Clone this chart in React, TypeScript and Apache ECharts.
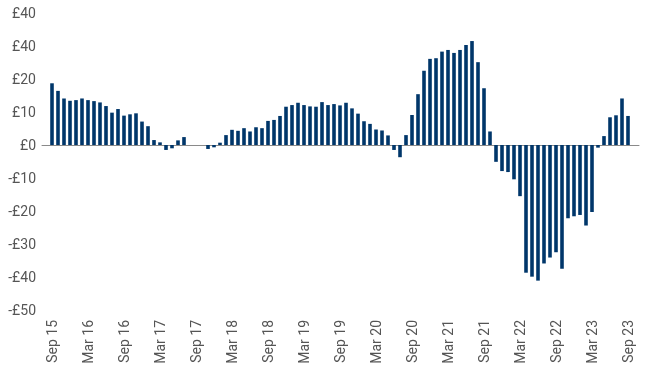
import React, { useEffect, useRef } from "react";
import * as echarts from "echarts";

const MONTHS = ["Jan", "Feb", "Mar", "Apr", "May", "Jun", "Jul", "Aug", "Sep", "Oct", "Nov", "Dec"];
// Sep 2015 .. Sep 2023, monthly
const categories: string[] = [];
for (let y = 2015, m = 8; y < 2023 || (y === 2023 && m <= 8); ) {
  categories.push(`${MONTHS[m]} ${String(y).slice(2)}`);
  m++;
  if (m === 12) { m = 0; y++; }
}

const values = [
  18.7, 16.4, 14.1, 13.4, 13.6, 14.1, 13.6, 13.3, 12.9, 11.8, 9.8, 10.9,
  8.9, 9.3, 9.6, 7.1, 5.7, 1.5, 0.8, -1.5, -1.0, 1.4, 2.4, 0,
  0, 0, -1.2, -0.7, 0.7, 3.0, 4.6, 4.3, 5.1, 4.1, 5.4, 5.1,
  7.3, 7.6, 8.8, 11.6, 12.1, 12.8, 12.1, 11.7, 11.6, 13.0, 12.1, 12.4,
  12.0, 12.8, 11.1, 9.5, 7.2, 6.4, 4.7, 4.4, 2.9, -1.5, -3.7, 3.0,
  9.1, 15.4, 22.5, 26.1, 26.3, 28.3, 28.8, 27.9, 28.8, 30.3, 31.5, 25.1,
  17.2, 4.1, -5.1, -7.9, -8.2, -10.4, -15.5, -38.7, -39.9, -41.1, -35.9, -34.1,
  -32.5, -37.5, -22.2, -21.6, -21.2, -24.4, -20.3, -0.8, 2.7, 8.4, 9.0, 14.1,
  8.8,
];

const yTickValues = [-50, -40, -30, -20, -10, 0, 10, 20, 30, 40];
const yTickLabels = ["-£50", "-£40", "-£30", "-£20", "-£10", "£0", "£10", "£20", "£40", "£40"];

const FONT = "Roboto, 'Liberation Sans', sans-serif";

export default function App() {
  const ref = useRef<HTMLDivElement>(null);
  useEffect(() => {
    if (!ref.current) return;
    const chart = echarts.init(ref.current, null, { renderer: "svg" });
    chart.setOption({
      animation: false,
      grid: [
        { left: 49, right: 19, top: 13, bottom: 58 },
        { left: 42, right: 11, top: 13, bottom: 58 },
      ],
      xAxis: [
        {
          type: "category",
          gridIndex: 0,
          data: categories,
          boundaryGap: true,
          axisLine: { show: false, onZero: false },
          axisTick: { show: false },
          splitLine: { show: false },
          axisLabel: {
            interval: 5,
            rotate: 90,
            margin: 10,
            color: "#555",
            fontSize: 14,
            fontFamily: FONT,
          },
        },
        {
          type: "value",
          gridIndex: 1,
          min: 0,
          max: 1,
          axisLine: { show: true, onZero: true, lineStyle: { color: "#8a8a8a", width: 1 } },
          axisTick: { show: false },
          axisLabel: { show: false },
          splitLine: { show: false },
        },
      ],
      yAxis: [
        {
          type: "value",
          gridIndex: 0,
          min: -50,
          max: 40,
          interval: 10,
          axisLine: { show: false },
          axisTick: { show: false },
          splitLine: { show: false },
          axisLabel: {
            margin: 13,
            color: "#555",
            fontSize: 14,
            fontFamily: FONT,
            formatter: (v: number) => {
              const i = yTickValues.indexOf(v);
              return i >= 0 ? yTickLabels[i] : "";
            },
          },
        },
        {
          type: "value",
          gridIndex: 1,
          min: -50,
          max: 40,
          show: false,
        },
      ],
      series: [
        {
          type: "bar",
          xAxisIndex: 0,
          yAxisIndex: 0,
          data: values,
          barWidth: 3.6,
          itemStyle: { color: "#00366a" },
          z: 3,
        },
      ],
    });
    return () => chart.dispose();
  }, []);
  return <div ref={ref} style={{ width: 650, height: 368, position: "fixed", left: 0, top: 0 }} />;
}
